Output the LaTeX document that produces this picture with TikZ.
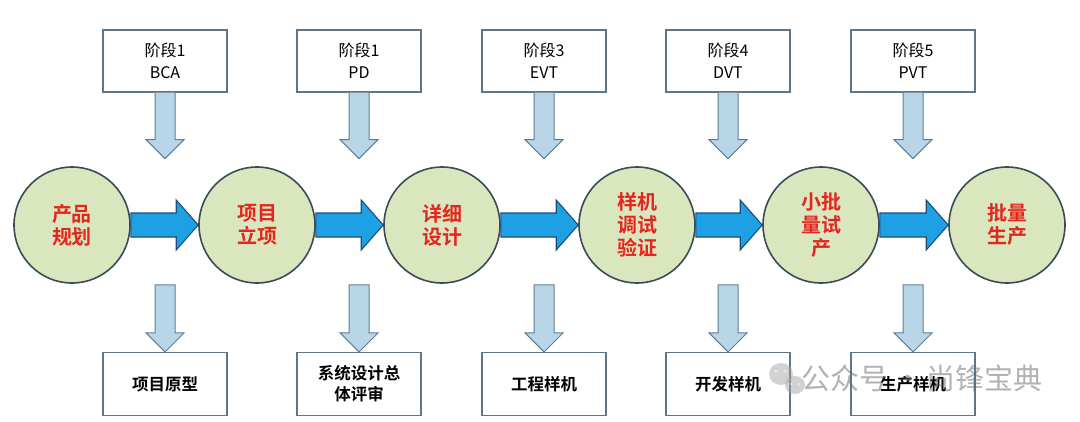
\documentclass[tikz,border=0pt]{standalone}
\usepackage{fontspec}
\newfontfamily\cjk{Noto Sans CJK SC}
\newfontfamily\cjkb{Noto Sans CJK SC Bold}
\usetikzlibrary{calc}
\definecolor{circfill}{HTML}{D9E6BE}
\definecolor{circdraw}{HTML}{3C4B55}
\definecolor{redtxt}{HTML}{E3261E}
\definecolor{boxdraw}{HTML}{5F7689}
\definecolor{varrfill}{HTML}{B8D6E8}
\definecolor{varrdraw}{HTML}{5D7F95}
\definecolor{harrfill}{HTML}{1DA1E4}
\definecolor{harrdraw}{HTML}{1E4E78}
\tikzset{
  stage/.style={circle,draw=circdraw,line width=1.6pt,fill=circfill,minimum size=116pt,inner sep=0pt,
    align=center,text=redtxt,font=\cjkb\fontsize{20}{23}\selectfont},
  topbox/.style={rectangle,draw=boxdraw,line width=1.1pt,fill=white,minimum width=124pt,minimum height=62pt,
    inner sep=0pt,align=center,font=\cjk\fontsize{16}{22}\selectfont},
  botbox/.style={rectangle,draw=boxdraw,line width=1.1pt,fill=white,minimum width=124pt,minimum height=63pt,
    inner sep=0pt,align=center,font=\cjkb\fontsize{16.5}{21}\selectfont},
  varr/.style={draw=varrdraw,fill=varrfill,line width=1pt,line join=miter},
  harr/.style={draw=harrdraw,fill=harrfill,line width=1.1pt,line join=miter},
}
\begin{document}
\begin{tikzpicture}[x=1pt,y=-1pt]
\useasboundingbox (0,0) rectangle (1080,421);
\fill[white] (0,0) rectangle (1080,421);
% stages
\node[stage] (c1) at (72,225) {产品\\规划};
\node[stage] (c2) at (257,225) {项目\\立项};
\node[stage] (c3) at (442,225) {详细\\设计};
\node[stage] (c4) at (637,225) {样机\\调试\\验证};
\node[stage] (c5) at (821,225) {小批\\量试\\产};
\node[stage] (c6) at (1007,225) {批量\\生产};
% top boxes
\node[topbox] (t1) at (165,61) {阶段1\\BCA};
\node[topbox] (t2) at (359,61) {阶段1\\PD};
\node[topbox] (t3) at (544,61) {阶段3\\EVT};
\node[topbox] (t4) at (728,61) {阶段4\\DVT};
\node[topbox] (t5) at (913,61) {阶段5\\PVT};
% bottom boxes
\node[botbox] (b1) at (165,384) {项目原型};
\node[botbox] (b2) at (359,384) {系统设计总\\体评审};
\node[botbox] (b3) at (544,384) {工程样机};
\node[botbox] (b4) at (728,384) {开发样机};
\node[botbox] (b5) at (913,384) {生产样机};
% horizontal arrows
\foreach \a/\b in {c1/c2,c2/c3,c3/c4,c4/c5,c5/c6}{
  \draw[harr] ($(\a.east)+(0,-12)$) -- ($(\b.west)+(-22,-12)$) -- ($(\b.west)+(-22,-25)$)
    -- (\b.west) -- ($(\b.west)+(-22,25)$) -- ($(\b.west)+(-22,12)$) -- ($(\a.east)+(0,12)$) -- cycle;
}
% top down arrows
\foreach \t in {t1,t2,t3,t4,t5}{
  \draw[varr] ($(\t.south)+(-10,0)$) -- ++(0,47) -- ++(-9,0) -- ++(19,19) -- ++(19,-19) -- ++(-9,0) -- ++(0,-47);
}
% bottom down arrows
\foreach \b in {b1,b2,b3,b4,b5}{
  \draw[varr] ($(\b.north)+(-10,-67)$) -- ++(0,48) -- ++(-9,0) -- (\b.north) -- ++(19,-19) -- ++(-9,0) -- ++(0,-48) -- cycle;
}
% watermark
\begin{scope}[opacity=0.5]
\fill[gray!70] (781,374) ellipse (12pt and 11pt);
\fill[gray!70] (795,385) ellipse (10pt and 9pt);
\fill[white] (776,371) circle (1.6pt) (785,371) circle (1.6pt);
\fill[white] (791,384) circle (1.3pt) (799,384) circle (1.3pt);
\node[text=gray!80!black,font=\cjk\fontsize{29}{32}\selectfont,anchor=west,inner sep=0pt] (wm) at (801,378) {公众号\,·\,尚锋宝典};
\end{scope}
\end{tikzpicture}
\end{document}
